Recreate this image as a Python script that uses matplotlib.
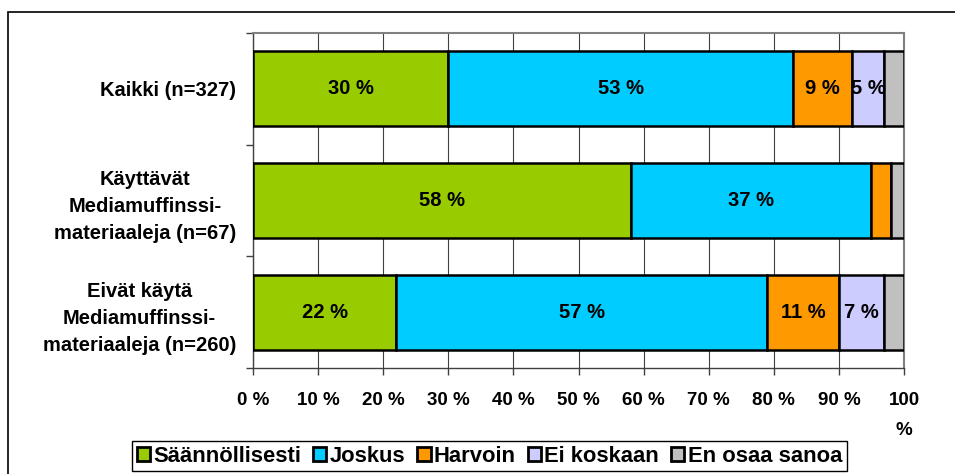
import matplotlib
matplotlib.use("Agg")
import matplotlib.pyplot as plt
from matplotlib.patches import Rectangle
import numpy as np

plt.rcParams['font.family'] = ['Liberation Sans', 'DejaVu Sans']

categories = ["Kaikki (n=327)",
              "Käyttävät\nMediamuffinssi-\nmateriaaleja (n=67)",
              "Eivät käytä\nMediamuffinssi-\nmateriaaleja (n=260)"]
series_names = ["Säännöllisesti", "Joskus", "Harvoin", "Ei koskaan", "En osaa sanoa"]
saannollisesti = [30, 58, 22]
joskus = [53, 37, 57]
harvoin = [9, 3, 11]
ei_koskaan = [5, 0, 7]
en_osaa = [3, 2, 3]
colors = ["#99CC00", "#00CCFF", "#FF9900", "#CCCCFF", "#C0C0C0"]
xtick_labels = ["0 %", "10 %", "20 %", "30 %", "40 %", "50 %", "60 %", "70 %", "80 %", "90 %", "100\n%"]

series = [saannollisesti, joskus, harvoin, ei_koskaan, en_osaa]

fig = plt.figure(figsize=(9.55, 4.74), dpi=100)
ax = fig.add_axes([253/955, 1-368/474, (904-253)/955, (368-33)/474])

y = np.arange(len(categories))
left = np.zeros(len(categories))
for vals, name, col in zip(series, series_names, colors):
    vals = np.array(vals, dtype=float)
    ax.barh(y, vals, left=left, height=0.67, color=col, edgecolor='black',
            linewidth=1.8, label=name, zorder=3)
    for yi, v, l in zip(y, vals, left):
        if v >= 5:
            ax.text(l + v/2, yi, f"{int(v)} %", ha='center', va='center',
                    fontsize=14.5, fontweight='bold', color='black', zorder=4)
    left += vals

ax.set_xlim(0, 100)
ax.set_ylim(len(categories) - 0.5, -0.5)
ax.set_xticks(np.arange(0, 101, 10))
ax.set_xticklabels(xtick_labels, fontsize=13.5, fontweight='bold', va='top', linespacing=2.0)
ax.tick_params(axis='x', direction='out', length=5, width=1, pad=12, color='#404040')

ax.set_yticks(y)
ax.set_yticklabels(categories, fontsize=14.5, fontweight='bold', ha='right',
                   multialignment='center', linespacing=1.55)
ax.tick_params(axis='y', which='major', length=0, pad=12)
ax.set_yticks(np.arange(-0.5, len(categories), 1), minor=True)
ax.tick_params(axis='y', which='minor', direction='out', length=5, width=1, color='#404040')

ax.grid(axis='x', color='#404040', linewidth=0.8, zorder=0)
ax.set_axisbelow(True)
for s in ['top', 'right']:
    ax.spines[s].set_color('#808080')
    ax.spines[s].set_linewidth(1.5)
for s in ['left', 'bottom']:
    ax.spines[s].set_color('#404040')
    ax.spines[s].set_linewidth(1.0)

leg = fig.legend(loc='center', bbox_to_anchor=(489.5/955, 1-456/474), ncol=5,
                 frameon=True, fancybox=False, edgecolor='black', framealpha=1,
                 prop={'weight': 'bold', 'size': 15.8}, handlelength=0.6, handleheight=0.6,
                 handletextpad=0.15, columnspacing=0.55, borderpad=0.22, borderaxespad=0)
leg.get_frame().set_linewidth(1.0)
for h in leg.legend_handles:
    h.set_linewidth(2.0)

fig.patches.append(Rectangle((8/955, -0.1), 1.0, 1.1 - 12/474, transform=fig.transFigure,
                             fill=False, edgecolor='black', linewidth=1.2, zorder=0))

fig.savefig("out.png", dpi=100)
